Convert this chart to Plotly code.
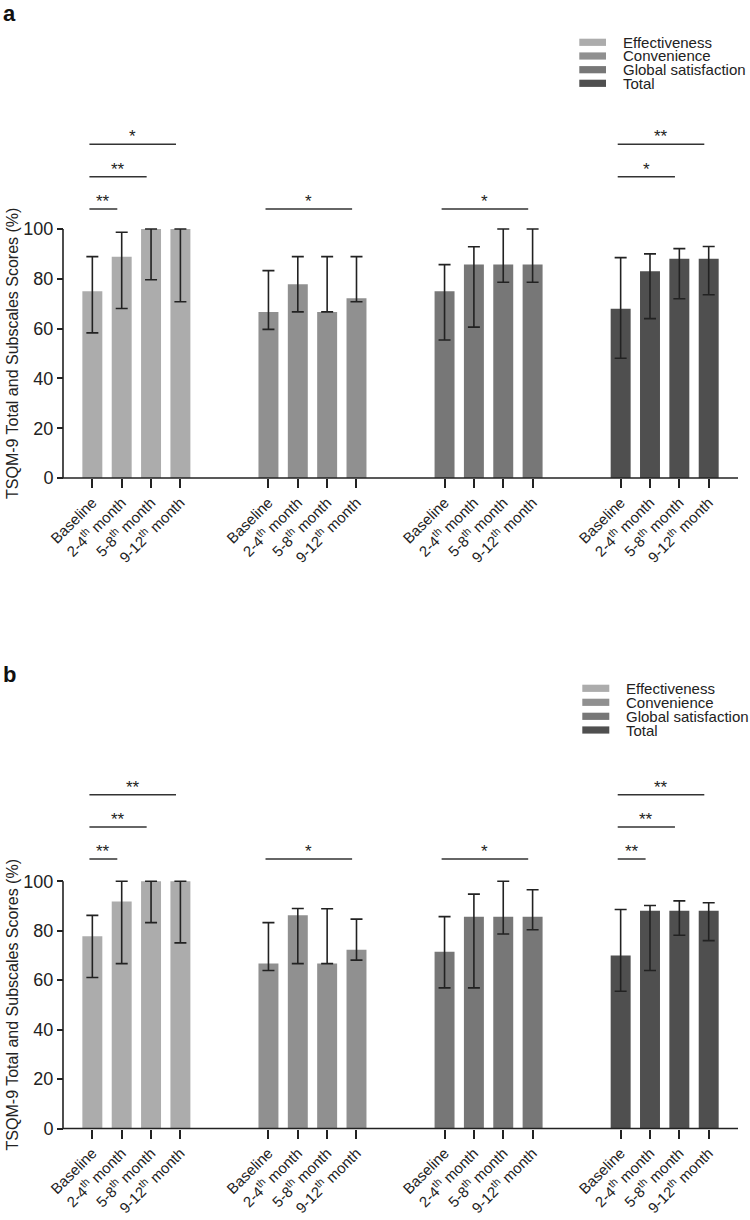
import plotly.graph_objects as go

# ---------------- data ----------------
timepoints = ["Baseline", "2-4<sup>th</sup> month", "5-8<sup>th</sup> month", "9-12<sup>th</sup> month"]
subscales = ["Effectiveness", "Convenience", "Global satisfaction", "Total"]
colors = ["#acacac", "#909090", "#777777", "#4f4f4f"]

# Panel a : medians, upper and lower error-bar ends (per subscale, per timepoint)
a_mean = [
    [75.0, 88.9, 100.0, 100.0],
    [66.7, 77.8, 66.7, 72.2],
    [75.0, 85.7, 85.7, 85.7],
    [68.0, 83.0, 88.1, 88.1],
]
a_upper = [
    [88.9, 98.7, 100.0, 100.0],
    [83.3, 88.9, 88.9, 88.9],
    [85.7, 92.9, 100.0, 100.0],
    [88.5, 90.0, 92.1, 93.0],
]
a_lower = [
    [58.3, 68.1, 79.6, 70.8],
    [59.7, 66.7, 66.7, 70.8],
    [55.4, 60.6, 78.6, 78.6],
    [48.1, 64.0, 72.0, 73.6],
]

# Panel b
b_mean = [
    [77.8, 91.8, 100.0, 100.0],
    [66.7, 86.3, 66.7, 72.3],
    [71.5, 85.7, 85.7, 85.7],
    [70.0, 88.1, 88.1, 88.1],
]
b_upper = [
    [86.2, 100.0, 100.0, 100.0],
    [83.3, 89.0, 88.9, 84.7],
    [85.7, 94.8, 100.0, 96.6],
    [88.6, 90.2, 92.1, 91.3],
]
b_lower = [
    [61.1, 66.7, 83.3, 75.1],
    [63.9, 66.7, 66.7, 68.1],
    [56.9, 56.9, 78.7, 80.4],
    [55.5, 63.9, 78.2, 76.0],
]

# significance brackets: (subscale, from timepoint, to timepoint, stacking level, label)
a_sig = [(0, 0, 1, 1, "**"), (0, 0, 2, 2, "**"), (0, 0, 3, 3, "*"),
         (1, 0, 3, 1, "*"), (2, 0, 3, 1, "*"),
         (3, 0, 2, 2, "*"), (3, 0, 3, 3, "**")]
b_sig = [(0, 0, 1, 1, "**"), (0, 0, 2, 2, "**"), (0, 0, 3, 3, "**"),
         (1, 0, 3, 1, "*"), (2, 0, 3, 1, "*"),
         (3, 0, 1, 1, "**"), (3, 0, 2, 2, "**"), (3, 0, 3, 3, "**")]

y_title = "TSQM-9 Total and Subscales Scores (%)"

# ---------------- layout helpers ----------------
W, H = 750, 1220
FONT = "Liberation Sans, Arial, sans-serif"
INK = "#222222"
GROUP_STEP = 6
px_unit_x = 29.35
x0_px = 63.0            # pixel of x = -1 (y axis line)
xr = [-1.06, 22.0]
xdom = [(x0_px + (xr[0] + 1) * px_unit_x) / W, (x0_px + (xr[1] + 1) * px_unit_x) / W]

panels = [
    dict(mean=a_mean, up=a_upper, lo=a_lower, sig=a_sig, zero=478.0, hundred=229.0,
         sig_base=108.0, label="a", label_y=14.0,
         leg_x=(579.3, 606.0), leg_rows=[42.3, 56.0, 69.7, 83.3], leg_tx=621.0),
    dict(mean=b_mean, up=b_upper, lo=b_lower, sig=b_sig, zero=1128.5, hundred=881.3,
         sig_base=109.0, label="b", label_y=674.0,
         leg_x=(582.3, 609.3), leg_rows=[688.3, 702.3, 716.3, 730.0], leg_tx=624.0),
]
sig_step = 13.0
yr = [-0.8, 140.0]

fig = go.Figure()
shapes = []
annotations = []

def py(p):
    return 1 - p / H

for k, P in enumerate(panels):
    xa = "x" if k == 0 else "x2"
    ya = "y" if k == 0 else "y2"
    s = (P["zero"] - P["hundred"]) / 100.0
    ydom = [py(P["zero"] - yr[0] * s), py(P["zero"] - yr[1] * s)]
    xkey = "xaxis" if k == 0 else "xaxis2"
    ykey = "yaxis" if k == 0 else "yaxis2"

    tickvals, ticktext = [], []
    for g, name in enumerate(subscales):
        xs = [g * GROUP_STEP + i for i in range(len(timepoints))]
        tickvals += xs
        ticktext += timepoints
        m = P["mean"][g]
        up = [u - v for u, v in zip(P["up"][g], m)]
        dn = [v - l for v, l in zip(m, P["lo"][g])]
        fig.add_trace(go.Bar(
            x=xs, y=m, width=0.68, name=name, showlegend=False,
            marker=dict(color=colors[g], line=dict(width=0)),
            error_y=dict(type="data", symmetric=False, array=up, arrayminus=dn,
                         color=INK, thickness=1.6, width=6),
            xaxis=xa, yaxis=ya,
        ))

    fig.update_layout(**{
        xkey: dict(domain=xdom, range=xr, anchor="free", position=py(P["zero"]),
                   showline=False, showgrid=False, zeroline=False,
                   tickmode="array", tickvals=tickvals, ticktext=ticktext,
                   tickangle=-45, ticks="outside", ticklen=9, tickwidth=1.5,
                   tickcolor=INK, tickfont=dict(family=FONT, size=15, color=INK),
                   automargin=False, fixedrange=True),
        ykey: dict(domain=ydom, range=yr, anchor="free", position=x0_px / W,
                   showline=False, showgrid=False, zeroline=False,
                   tickmode="array", tickvals=[0, 20, 40, 60, 80, 100],
                   ticks="outside", ticklen=6, tickwidth=1.5, tickcolor=INK,
                   tickfont=dict(family=FONT, size=18, color=INK),
                   automargin=False, fixedrange=True),
    })

    # axis lines
    shapes.append(dict(type="line", xref=xa, yref=ya, x0=-1, x1=xr[1], y0=0, y1=0,
                       line=dict(color=INK, width=1.6)))
    shapes.append(dict(type="line", xref=xa, yref=ya, x0=-1, x1=-1, y0=0, y1=100,
                       line=dict(color=INK, width=1.6)))

    # significance brackets
    for (g, i0, i1, lvl, lab) in P["sig"]:
        xa0 = g * GROUP_STEP + i0 - 0.1
        xa1 = g * GROUP_STEP + i1 - 0.15
        yv = P["sig_base"] + (lvl - 1) * sig_step
        shapes.append(dict(type="line", xref=xa, yref=ya, x0=xa0, x1=xa1, y0=yv, y1=yv,
                           line=dict(color="#333333", width=1.5)))
        annotations.append(dict(xref=xa, yref=ya, x=(xa0 + xa1) / 2, y=yv, text=lab,
                                showarrow=False, yanchor="bottom", yshift=-4,
                                font=dict(family=FONT, size=17, color=INK)))

    # y title
    annotations.append(dict(xref="paper", yref="paper", x=12.5 / W,
                            y=py(P["zero"] - 50 * s), text=y_title, textangle=-90,
                            showarrow=False, xanchor="center", yanchor="middle",
                            font=dict(family=FONT, size=16, color=INK)))
    # panel letter
    annotations.append(dict(xref="paper", yref="paper", x=1 / W, y=py(P["label_y"]),
                            text="<b>%s</b>" % P["label"], showarrow=False,
                            xanchor="left", yanchor="middle",
                            font=dict(family=FONT, size=22, color="#111111")))
    # legend
    for j, name in enumerate(subscales):
        yc = P["leg_rows"][j]
        shapes.append(dict(type="rect", xref="paper", yref="paper",
                           x0=P["leg_x"][0] / W, x1=P["leg_x"][1] / W,
                           y0=py(yc + 3.6), y1=py(yc - 3.6),
                           fillcolor=colors[j], line=dict(width=0)))
        annotations.append(dict(xref="paper", yref="paper", x=P["leg_tx"] / W, y=py(yc),
                                text=name, showarrow=False, xanchor="left", yanchor="middle",
                                font=dict(family=FONT, size=15, color=INK)))

fig.update_layout(
    width=W, height=H, margin=dict(l=0, r=0, t=0, b=0),
    paper_bgcolor="white", plot_bgcolor="white",
    barmode="overlay", showlegend=False,
    shapes=shapes, annotations=annotations,
    font=dict(family=FONT, color=INK),
)

fig.write_html(
    "out.html",
    config={"displayModeBar": False},
    post_script="document.body.style.margin='0';document.body.style.padding='0';"
                "document.body.style.overflow='hidden';",
)
